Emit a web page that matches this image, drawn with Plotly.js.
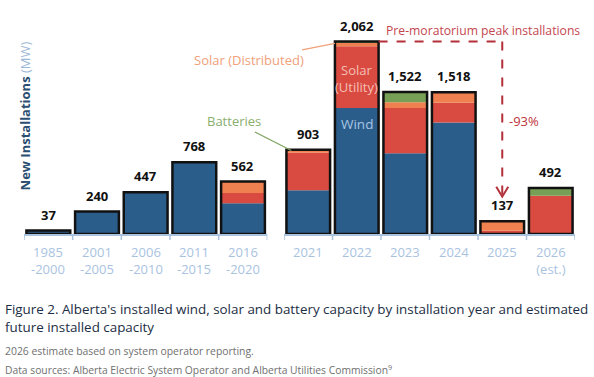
<!DOCTYPE html>
<html><head><meta charset="utf-8">
<script src="https://cdn.plot.ly/plotly-3.0.1.min.js"></script>
<style>body{margin:0;background:#fff}#chart{width:594px;height:377px}</style>
</head><body><div id="chart"></div>
<script>
// Categories (two groups separated by a gap)
const catsPeriods = ["1985<br>-2000","2001<br>-2005","2006<br>-2010","2011<br>-2015","2016<br>-2020"];
const catsYears = ["2021","2022","2023","2024","2025","2026<br>(est.)"];
// Series values (MW), periods then years
const windPeriods = [37, 240, 447, 768, 330];
const solarUtilityPeriods = [0, 0, 0, 0, 110];
const solarDistPeriods = [0, 0, 0, 0, 122];
const batteriesPeriods = [0, 0, 0, 0, 0];
const windYears = [470, 1351, 866, 1194, 0, 0];
const solarUtilityYears = [400, 660, 484, 212, 35, 410];
const solarDistYears = [25, 36, 62, 112, 102, 0];
const batteriesYears = [8, 15, 110, 0, 0, 82];

const C = {wind:"#2b5d8b", util:"#d94b40", dist:"#ef8150", batt:"#779f55"};
const FONT = "Open Sans";

function add(a,b){return a.map((v,i)=>v+b[i]);}
const zP = catsPeriods.map(()=>0), zY = catsYears.map(()=>0);
const bP1 = add(zP, windPeriods), bP2 = add(bP1, solarUtilityPeriods), bP3 = add(bP2, solarDistPeriods), totP = add(bP3, batteriesPeriods);
const bY1 = add(zY, windYears), bY2 = add(bY1, solarUtilityYears), bY3 = add(bY2, solarDistYears), totY = add(bY3, batteriesYears);
const fmt = v => v.toLocaleString("en-US");
const iP = catsPeriods.map((_,i)=>i), iY = catsYears.map((_,i)=>i);
const yi = c => catsYears.indexOf(c);

function seg(x, y, base, color, xa, name){
  return {type:"bar", x:x, y:y, base:base, xaxis:xa, yaxis:"y", name:name, width:0.9,
    marker:{color:color, line:{width:0}}, hoverinfo:"skip", showlegend:false};
}
function outline(x, y, xa){
  return {type:"bar", x:x, y:y, base:x.map(()=>0), xaxis:xa, yaxis:"y", width:0.9,
    marker:{color:"rgba(0,0,0,0)", line:{color:"#111", width:2.5}}, hoverinfo:"skip", showlegend:false};
}
const data = [
  seg(iP, windPeriods, zP, C.wind, "x", "Wind"),
  seg(iP, solarUtilityPeriods, bP1, C.util, "x", "Solar (Utility)"),
  seg(iP, solarDistPeriods, bP2, C.dist, "x", "Solar (Distributed)"),
  seg(iP, batteriesPeriods, bP3, C.batt, "x", "Batteries"),
  outline(iP, totP, "x"),
  seg(iY, windYears, zY, C.wind, "x2", "Wind"),
  seg(iY, solarUtilityYears, bY1, C.util, "x2", "Solar (Utility)"),
  seg(iY, solarDistYears, bY2, C.dist, "x2", "Solar (Distributed)"),
  seg(iY, batteriesYears, bY3, C.batt, "x2", "Batteries"),
  outline(iY, totY, "x2")
];

const YMAX = 2400;
const tickFont = {family:FONT, size:13, color:"#a9c3df"};
const xbase = {type:"linear", showgrid:false, zeroline:false, showline:true, linecolor:"#a9c3df", linewidth:1.5,
  ticks:"", showticklabels:false, fixedrange:true};

const ann = [];
// tick labels (category names) drawn from category arrays
catsPeriods.forEach((c,i)=>ann.push({xref:"x", yref:"paper", x:i, y:0, yanchor:"top", yshift:-7, text:c, showarrow:false, font:tickFont}));
catsYears.forEach((c,i)=>ann.push({xref:"x2", yref:"paper", x:i, y:0, yanchor:"top", yshift:-7, text:c, showarrow:false, font:tickFont}));
catsPeriods.forEach((c,i)=>ann.push({xref:"x", yref:"y", x:i, y:totP[i], text:"<b>"+fmt(totP[i])+"</b>", showarrow:false, yanchor:"bottom", yshift:5, font:{family:FONT, size:13, color:"#111"}}));
catsYears.forEach((c,i)=>ann.push({xref:"x2", yref:"y", x:i, y:totY[i], text:"<b>"+fmt(totY[i])+"</b>", showarrow:false, yanchor:"bottom", yshift:5, font:{family:FONT, size:13, color:"#111"}}));

// in-bar labels
ann.push({xref:"x2", yref:"y", x:yi("2022"), y:1183, text:"Wind", showarrow:false, font:{family:FONT, size:13.5, color:"#a8c5e3"}});
ann.push({xref:"x2", yref:"y", x:yi("2022"), y:1665, text:"Solar<br>(Utility)", showarrow:false, font:{family:FONT, size:13, color:"#f5bfb6"}});
// callouts
ann.push({xref:"x2", yref:"y", x:yi("2022")-0.45, y:totY[1]-20, text:"Solar (Distributed)", showarrow:true, arrowhead:0, arrowwidth:1.3, arrowcolor:"#f0a07a", ax:-86, ay:17, font:{family:FONT, size:13, color:"#f0a07a"}});
ann.push({xref:"x2", yref:"y", x:yi("2021")-0.35, y:totY[0]-8, text:"Batteries", showarrow:true, arrowhead:0, arrowwidth:1.3, arrowcolor:"#7fa35f", ax:-57, ay:-29, font:{family:FONT, size:13, color:"#8aae6e"}});
ann.push({xref:"x2", yref:"y", x:yi("2025"), y:totY[1], text:"Pre-moratorium peak installations", showarrow:false, yanchor:"middle", yshift:11, xshift:-19, font:{family:FONT, size:12.2, color:"#c4474f"}});
ann.push({xref:"x2", yref:"y", x:yi("2025"), y:1215, text:"-93%", showarrow:false, xshift:22, font:{family:FONT, size:13, color:"#bd343c"}});
// axis title
ann.push({xref:"paper", yref:"paper", x:0, y:0.525, xshift:-10, textangle:-90, showarrow:false,
  text:"<b>New Installations</b><span style='color:#9db8d6'> (MW)</span>", font:{family:FONT, size:13, color:"#2b4f72"}});
// caption
const cap = (t, py, size, color) => ({xref:"paper", yref:"paper", x:0, y:0, xanchor:"left", yanchor:"middle", xshift:-21, yshift:-(py-233.5), showarrow:false, align:"left", text:t, font:{family:FONT, size:size, color:color}});
ann.push(cap("Figure 2. Alberta's installed wind, solar and battery capacity by installation year and estimated", 308, 13.4, "#1c2e44"));
ann.push(cap("future installed capacity", 326, 13.4, "#1c2e44"));
ann.push(cap("2026 estimate based on system operator reporting.", 350, 10.4, "#707070"));
ann.push(cap("Data sources: Alberta Electric System Operator and Alberta Utilities Commission<sup>9</sup>", 369, 10.3, "#707070"));

const dashColor = "#b3303a";
const tickColor = "#a9c3df";
const shapes = [
  {type:"line", xref:"x2", yref:"y", x0:yi("2022")+0.45, x1:yi("2025"), y0:totY[1], y1:totY[1], line:{color:dashColor, width:2, dash:"dash"}},
  {type:"line", xref:"x2", yref:"y", x0:yi("2025"), x1:yi("2025"), y0:totY[1], y1:400, line:{color:dashColor, width:2, dash:"dash"}},
  {type:"path", xref:"x2", yref:"y", xsizemode:"pixel", ysizemode:"pixel", xanchor:yi("2025"), yanchor:400, path:"M-6,10 L0,0 L6,10", line:{color:dashColor, width:2}}
];
// boundary ticks
for (let i=0;i<=catsPeriods.length;i++) shapes.push({type:"line", xref:"x", yref:"paper", x0:i-0.5, x1:i-0.5, ysizemode:"pixel", yanchor:0, y0:0, y1:-6, line:{color:tickColor, width:1.5}});
for (let i=0;i<=catsYears.length;i++) shapes.push({type:"line", xref:"x2", yref:"paper", x0:i-0.5, x1:i-0.5, ysizemode:"pixel", yanchor:0, y0:0, y1:-6, line:{color:tickColor, width:1.5}});

const layout = {
  width:594, height:377, margin:{l:24, r:19, t:10, b:143},
  paper_bgcolor:"#fff", plot_bgcolor:"#fff",
  barmode:"overlay", showlegend:false,
  font:{family:FONT},
  xaxis:Object.assign({}, xbase, {domain:[0, 0.4416], anchor:"y", range:[-0.5, catsPeriods.length-0.5]}),
  xaxis2:Object.assign({}, xbase, {domain:[0.4719, 1], anchor:"y", range:[-0.5, catsYears.length-0.5]}),
  yaxis:{range:[0, YMAX], visible:false, fixedrange:true},
  annotations:ann, shapes:shapes
};
Plotly.newPlot("chart", data, layout, {displayModeBar:false, staticPlot:true});
</script></body></html>
